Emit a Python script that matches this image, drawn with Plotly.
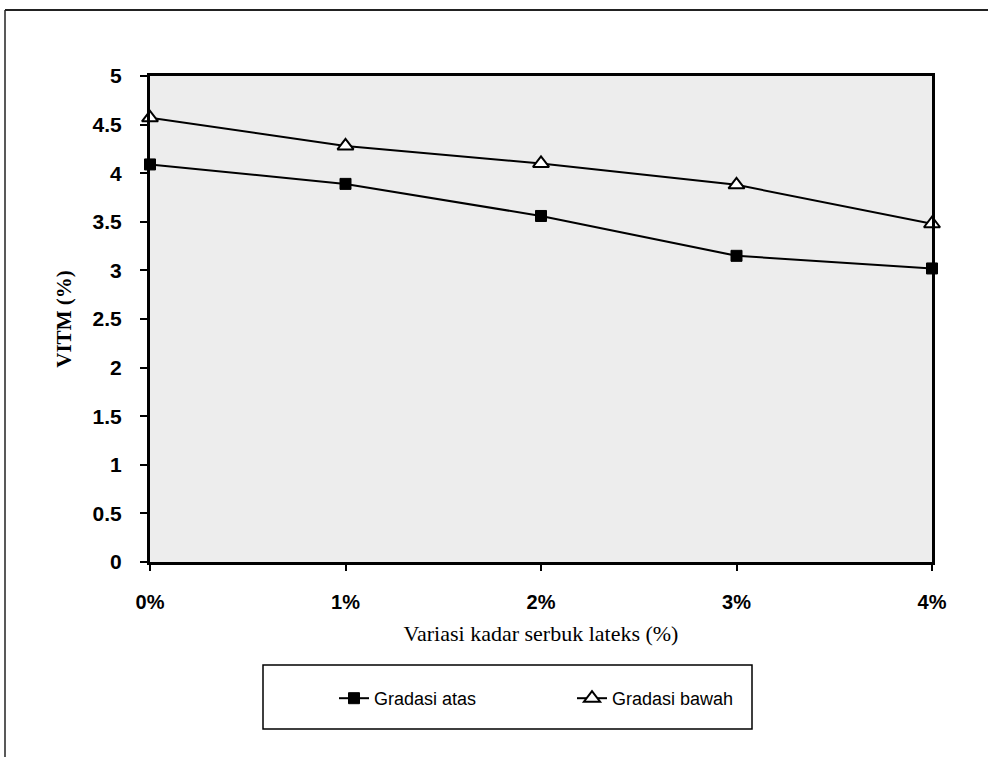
import plotly.graph_objects as go

categories = ["0%", "1%", "2%", "3%", "4%"]
x_pos = [0, 1, 2, 3, 4]
gradasi_atas = [4.09, 3.89, 3.56, 3.15, 3.02]
gradasi_bawah = [4.57, 4.28, 4.10, 3.88, 3.48]
y_ticks = [0, 0.5, 1, 1.5, 2, 2.5, 3, 3.5, 4, 4.5, 5]
y_labels = ["0", "0.5", "1", "1.5", "2", "2.5", "3", "3.5", "4", "4.5", "5"]

fig = go.Figure()
fig.add_trace(go.Scatter(
    x=x_pos, y=gradasi_atas, mode="lines+markers", name="Gradasi atas",
    line=dict(color="black", width=2), cliponaxis=False,
    marker=dict(symbol="square", size=11, color="black",
                line=dict(color="black", width=1)),
))
fig.add_trace(go.Scatter(
    x=x_pos, y=gradasi_bawah, mode="lines+markers", name="Gradasi bawah",
    line=dict(color="black", width=2), cliponaxis=False,
    marker=dict(symbol="triangle-up", size=14, color="white",
                line=dict(color="black", width=2)),
))

W, H = 988, 757
L, R, T, B = 150, 56, 76, 195
pw, ph = W - L - R, H - T - B

def px2paper(x, y):
    return (x - L) / pw, (H - B - y) / ph

# outer frame lines (top and left)
x0, y0 = px2paper(5, 10)
x1, _ = px2paper(988, 10)
_, y1 = px2paper(5, 757)
fig.add_shape(type="line", xref="paper", yref="paper", x0=x0, y0=y0, x1=x1, y1=y0,
              line=dict(color="#222", width=2))
fig.add_shape(type="line", xref="paper", yref="paper", x0=x0, y0=y0, x1=x0, y1=y1,
              line=dict(color="#222", width=1.5))

# legend box
lx0, ly0 = px2paper(263, 665)
lx1, ly1 = px2paper(752, 729)
fig.add_shape(type="rect", xref="paper", yref="paper", x0=lx0, y0=ly0, x1=lx1, y1=ly1,
              line=dict(color="black", width=1.5), fillcolor="white", layer="below")

legx, legy = px2paper(334, 680)

fig.update_layout(
    width=W, height=H,
    margin=dict(l=L, r=R, t=T, b=B),
    paper_bgcolor="white",
    plot_bgcolor="#ededed",
    showlegend=True,
    legend=dict(orientation="h", x=legx, y=legy, xanchor="left", yanchor="top",
                bgcolor="rgba(0,0,0,0)", borderwidth=0,
                font=dict(family="Liberation Sans, Arial", size=18, color="black"),
                entrywidth=193, entrywidthmode="pixels"),
    xaxis=dict(
        range=[0, 4], tickmode="array", tickvals=x_pos, ticktext=categories,
        showgrid=False, zeroline=False,
        showline=True, linecolor="black", linewidth=3, mirror=True,
        ticks="outside", ticklen=6, tickwidth=2, tickcolor="black",
        ticklabelstandoff=14,
        tickfont=dict(family="Liberation Sans, Arial", size=20, color="black", weight="bold"),
        title=dict(text="Variasi kadar serbuk lateks (%)", standoff=14,
                   font=dict(family="Liberation Serif, Times New Roman", size=22, color="black")),
    ),
    yaxis=dict(
        range=[0, 5], tickmode="array", tickvals=y_ticks, ticktext=y_labels,
        showgrid=False, zeroline=False,
        showline=True, linecolor="black", linewidth=3, mirror=True,
        ticks="outside", ticklen=7, tickwidth=2, tickcolor="black",
        ticklabelstandoff=14,
        tickfont=dict(family="Liberation Sans, Arial", size=21, color="black", weight="bold"),
        title=dict(text="VITM (%)", standoff=16,
                   font=dict(family="Liberation Serif, Times New Roman", size=21, color="black", weight="bold")),
    ),
)

fig.write_html("out.html")
